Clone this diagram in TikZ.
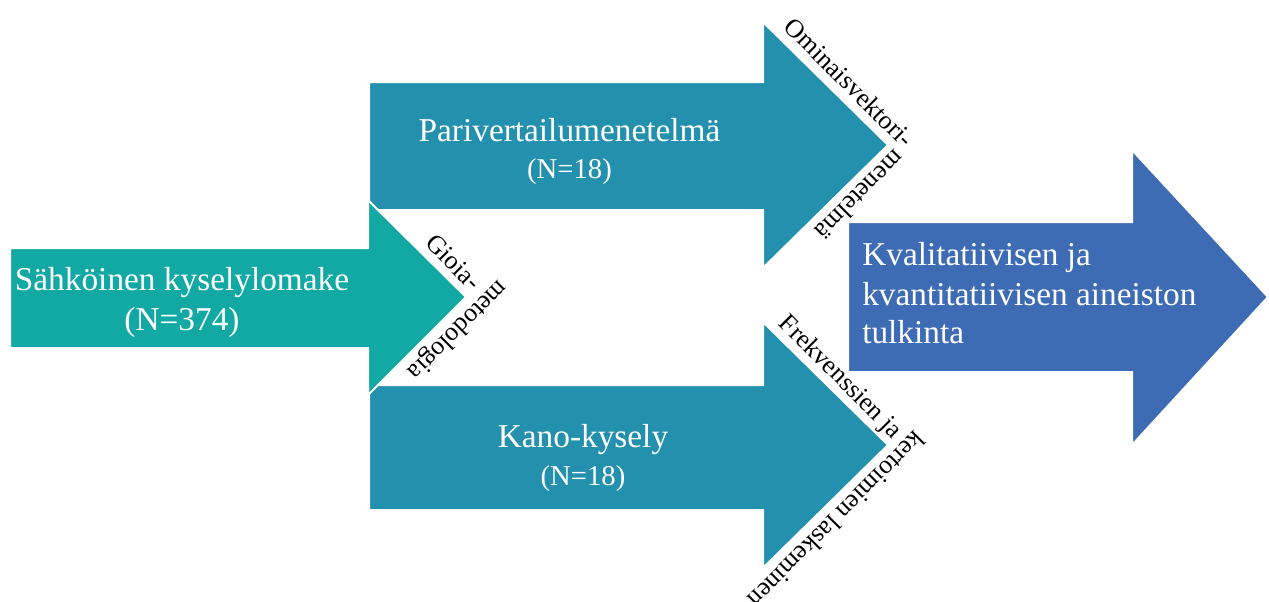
\documentclass[tikz,border=0pt]{standalone}
\usepackage{fontspec}
\setmainfont{Liberation Serif}
\definecolor{surveyteal}{RGB}{18,169,165}
\definecolor{methodteal}{RGB}{35,144,174}
\definecolor{resultblue}{RGB}{62,108,180}
\begin{document}
\begin{tikzpicture}[x=0.75pt,y=-0.75pt,
  arrowshape/.style={draw=white, line width=1.5pt, line join=miter},
  maintext/.style={text=white, inner sep=0pt, font=\fontsize{25}{30}\selectfont},
  counttext/.style={text=white, inner sep=0pt, font=\fontsize{21.5}{26}\selectfont},
  edgelabel/.style={text=black, inner sep=0pt, font=\fontsize{19.5}{23}\selectfont}]
\useasboundingbox (0,0) rectangle (1269,601);
\clip (0,0) rectangle (1269,601);

% upper branch: pairwise comparison
\path[arrowshape, fill=methodteal]
  (369,82) -- (763,82) -- (763,22) -- (888,145) -- (763,268) -- (763,210) -- (369,210) -- cycle;
% lower branch: Kano questionnaire
\path[arrowshape, fill=methodteal]
  (369,385) -- (763,385) -- (763,322) -- (888,445) -- (763,568) -- (763,510) -- (369,510) -- cycle;
% starting point: electronic questionnaire
\path[arrowshape, fill=surveyteal]
  (10,248) -- (368,248) -- (368,200) -- (466,297) -- (368,395) -- (368,348) -- (10,348) -- cycle;
% final step: interpretation
\path[arrowshape, fill=resultblue]
  (848,222) -- (1132,222) -- (1132,150) -- (1268,297) -- (1132,445) -- (1132,372) -- (848,372) -- cycle;

% texts inside the arrows
\node[maintext, anchor=base] (survey) at (182,290) {Sähköinen kyselylomake};
\node[maintext, anchor=base] (surveyN) at (182,330) {(N=374)};

\node[maintext, anchor=base] (pairwise) at (569.5,141) {Parivertailumenetelmä};
\node[counttext, anchor=base] (pairwiseN) at (569.5,178) {(N=18)};

\node[maintext, anchor=base] (kano) at (583,447.5) {Kano-kysely};
\node[counttext, anchor=base] (kanoN) at (583,485) {(N=18)};

\node[maintext, anchor=base west] (interp1) at (862,265) {Kvalitatiivisen ja};
\node[maintext, anchor=base west] (interp2) at (862,305) {kvantitatiivisen aineiston};
\node[maintext, anchor=base west] (interp3) at (862,343) {tulkinta};

% method names running along the arrow heads
\node[edgelabel, rotate=-45, anchor=base east] (gioia) at (471.3,291.7) {Gioia-};
\node[edgelabel, rotate=225, anchor=base west] (metodologia) at (498.9,278.9) {metodologia};
\node[edgelabel, rotate=-45, anchor=base east] (eigen) at (903.6,149.2) {Ominaisvektori-};
\node[edgelabel, rotate=225, anchor=base west] (eigenmethod) at (894.6,148.8) {menetelmä};
\node[edgelabel, rotate=-45, anchor=base east] (freq) at (893,440) {Frekvenssien ja};
\node[edgelabel, rotate=225, anchor=base west] (coeff) at (914.9,429.5) {kertoimien laskeminen};
\end{tikzpicture}
\end{document}
